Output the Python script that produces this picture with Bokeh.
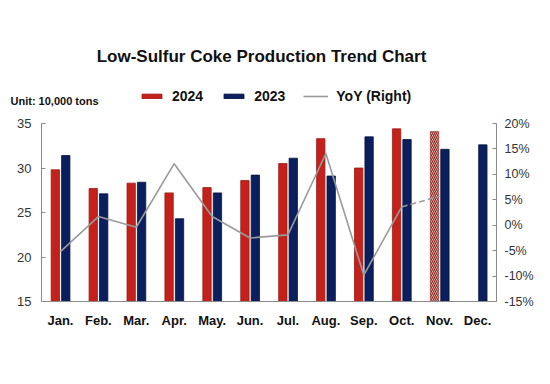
from bokeh.plotting import figure
from bokeh.models import (Range1d, LinearAxis, FixedTicker, PrintfTickFormatter, Legend,
                          LegendItem, FactorRange, ColumnDataSource, Label)
from bokeh.transform import dodge
from bokeh.embed import file_html
from bokeh.resources import INLINE

months = ["Jan.", "Feb.", "Mar.", "Apr.", "May.", "Jun.", "Jul.", "Aug.", "Sep.", "Oct.", "Nov.", "Dec."]
prod_2024 = [29.8, 27.7, 28.3, 27.2, 27.8, 28.6, 30.5, 33.3, 30.0, 34.4]
prod_2024_est_month = ["Nov."]
prod_2024_est = [34.1]
prod_2023 = [31.4, 27.1, 28.4, 24.3, 27.2, 29.2, 31.1, 29.1, 33.5, 33.2, 32.1, 32.6]
yoy_months = ["Jan.", "Feb.", "Mar.", "Apr.", "May.", "Jun.", "Jul.", "Aug.", "Sep.", "Oct."]
yoy = [-5.2, 1.7, -0.4, 12.1, 1.7, -2.5, -1.9, 14.1, -9.8, 3.6]
yoy_est_months = ["Oct.", "Nov."]
yoy_est = [3.6, 5.7]

RED = "#C4211B"
RED_EDGE = "#9E1A15"
NAVY = "#0B1F5E"
NAVY_EDGE = "#061440"
GREY = "#9A9A9A"
FONT = "Arial"

W = 540
HEAD_H = 112

# ---------------- header: title, unit note, legend ----------------
h = figure(width=W, height=HEAD_H, x_range=Range1d(0, W), y_range=Range1d(HEAD_H, 0),
           x_axis_type=None, y_axis_type=None, output_backend="svg", toolbar_location=None,
           min_border=0)
h.outline_line_color = None
h.xgrid.grid_line_color = None
h.ygrid.grid_line_color = None

# legend-only renderers (hidden): same styling as the chart's series
src_legend = ColumnDataSource(dict(a=prod_2023[:len(yoy)], b=yoy))
lg24 = h.vbar(x="a", top="b", width=1, source=src_legend,
              fill_color=RED, line_color=RED_EDGE, line_width=0.8, visible=False)
lg23 = h.vbar(x="a", top="b", width=1, source=src_legend,
              fill_color=NAVY, line_color=NAVY_EDGE, line_width=0.8, visible=False)
lgyy = h.line(x="a", y="b", source=src_legend, line_color=GREY, line_width=1.6, visible=False)

legend = Legend(items=[LegendItem(label="2024", renderers=[lg24]),
                       LegendItem(label="2023", renderers=[lg23]),
                       LegendItem(label="YoY (Right)", renderers=[lgyy])],
                orientation="horizontal", location=(139, 8), click_policy="none",
                glyph_width=25, glyph_height=6, label_height=14, label_standoff=8, spacing=18,
                padding=0, margin=0, border_line_color=None, background_fill_alpha=0,
                inactive_fill_alpha=0,
                label_text_font=FONT, label_text_font_size="14px",
                label_text_font_style="bold", label_text_color="#111111")
h.add_layout(legend, "center")

h.add_layout(Label(x=261, y=56, text="Low-Sulfur Coke Production Trend Chart",
                   text_align="center", text_baseline="middle", text_font=FONT,
                   text_font_size="17px", text_font_style="bold", text_color="#111111"))
h.add_layout(Label(x=10, y=100, text="Unit: 10,000 tons", text_align="left",
                   text_baseline="middle", text_font=FONT, text_font_size="11px",
                   text_font_style="bold", text_color="#111111"))

# ---------------- main chart ----------------
p = figure(x_range=FactorRange(*months, range_padding=0), y_range=Range1d(15, 35),
           width=W, height=368 - HEAD_H, output_backend="svg", toolbar_location=None,
           min_border_left=41, min_border_right=W - 496, min_border_top=123 - HEAD_H,
           min_border_bottom=67)
p.extra_y_ranges = {"yoy": Range1d(-15, 20)}
p.outline_line_color = None
p.xgrid.grid_line_color = None
p.ygrid.grid_line_color = None

s24 = ColumnDataSource(dict(m=months[:len(prod_2024)], v=prod_2024))
s24e = ColumnDataSource(dict(m=prod_2024_est_month, v=prod_2024_est))
s23 = ColumnDataSource(dict(m=months, v=prod_2023))

p.vbar(x=dodge("m", -0.135, range=p.x_range), top="v", bottom=15, width=0.22, source=s24,
       fill_color=RED, line_color=RED_EDGE, line_width=0.8)
p.vbar(x=dodge("m", -0.135, range=p.x_range), top="v", bottom=15, width=0.22, source=s24e,
       fill_color="#F8ECEA", line_color="#A0281E", line_width=0.6,
       hatch_pattern="left_diagonal_line", hatch_color="#8E2A20", hatch_scale=4,
       hatch_weight=1.3)
p.vbar(x=dodge("m", 0.14, range=p.x_range), top="v", bottom=15, width=0.22, source=s23,
       fill_color=NAVY, line_color=NAVY_EDGE, line_width=0.8)

p.line(x=yoy_months, y=yoy, y_range_name="yoy", line_color=GREY, line_width=1.6)
p.line(x=yoy_est_months, y=yoy_est, y_range_name="yoy", line_color=GREY, line_width=1.6,
       line_dash="6 3")

p.yaxis.ticker = FixedTicker(ticks=[15, 20, 25, 30, 35])
la = p.yaxis[0]
ra = LinearAxis(y_range_name="yoy", ticker=FixedTicker(ticks=[-15, -10, -5, 0, 5, 10, 15, 20]),
                formatter=PrintfTickFormatter(format="%d%%"))
p.add_layout(ra, "right")
for ax in (la, ra):
    ax.axis_line_color = "#8A8A8A"
    ax.major_tick_line_color = "#8A8A8A"
    ax.major_tick_out = 0
    ax.major_tick_in = 4
    ax.minor_tick_line_color = None
    ax.major_label_text_font = FONT
    ax.major_label_text_color = "#333333"
la.major_label_text_font_size = "13px"
la.major_label_standoff = 10
ra.major_label_text_font_size = "12.5px"
ra.major_label_standoff = 8

xa = p.xaxis[0]
xa.axis_line_color = "#8A8A8A"
xa.major_tick_line_color = None
xa.major_label_text_font = FONT
xa.major_label_text_font_size = "13px"
xa.major_label_text_font_style = "bold"
xa.major_label_text_color = "#111111"
xa.major_label_standoff = 5

open("out.html", "w").write(file_html([h, p], INLINE))
